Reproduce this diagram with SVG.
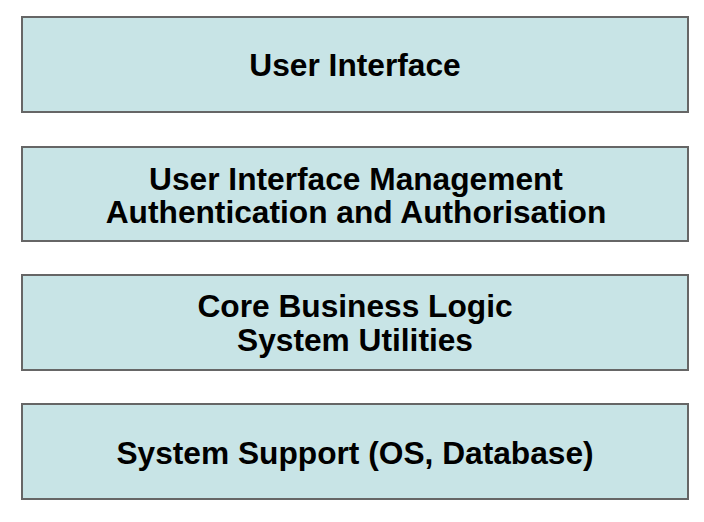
<svg xmlns="http://www.w3.org/2000/svg" width="704" height="522" viewBox="0 0 704 522">
<style>
.box{fill:#c8e4e6;stroke:#666;stroke-width:2}
.t{font-family:"Liberation Sans",Arial,sans-serif;font-weight:bold;font-size:31.7px;fill:#000;text-anchor:middle}
</style>
<rect width="704" height="522" fill="#fff"/>
<g id="layer1"><rect class="box" x="22" y="17" width="666" height="95"/><text class="t" x="355" y="76">User Interface</text></g>
<g id="layer2"><rect class="box" x="22" y="147" width="666" height="94"/><text class="t" x="356" y="190">User Interface Management</text><text class="t" x="356" y="223">Authentication and Authorisation</text></g>
<g id="layer3"><rect class="box" x="22" y="275" width="666" height="95"/><text class="t" x="355" y="317">Core Business Logic</text><text class="t" x="355" y="351">System Utilities</text></g>
<g id="layer4"><rect class="box" x="22" y="404" width="666" height="95"/><text class="t" x="355" y="464">System Support (OS, Database)</text></g>
<g id="connectors"></g>
</svg>
